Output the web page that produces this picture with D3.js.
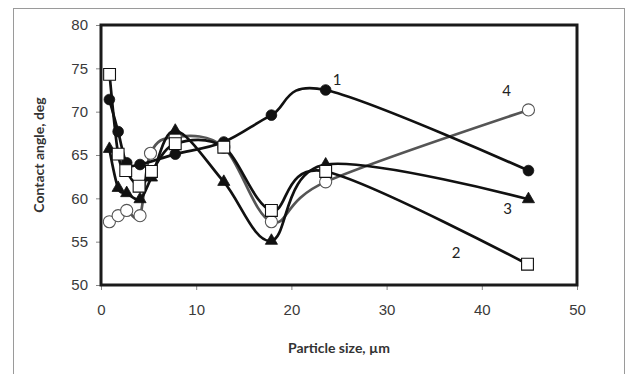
<!DOCTYPE html>
<html>
<head>
<meta charset="utf-8">
<script src="https://cdn.jsdelivr.net/npm/d3@7"></script>
<style>
  html, body { margin: 0; padding: 0; background: #fff; }
  svg { display: block; font-family: Lato, "Open Sans", "Liberation Sans", sans-serif; }
</style>
</head>
<body>
<div id="chart"></div>
<script>
// data
const xTicks = [0, 10, 20, 30, 40, 50];
const yTicks = [50, 55, 60, 65, 70, 75, 80];

const s1x = [0.88, 1.8, 2.7, 4.1, 7.8, 12.9, 17.9, 23.6, 44.9];
const s1y = [71.4, 67.7, 64.1, 63.9, 65.1, 66.5, 69.6, 72.5, 63.2];

const s2x = [0.9, 1.8, 2.6, 4.0, 5.3, 7.8, 12.9, 17.9, 23.6, 44.8];
const s2y = [74.3, 65.1, 63.2, 61.4, 63.1, 66.3, 65.9, 58.6, 63.1, 52.4];

const s3x = [0.88, 1.8, 2.7, 4.1, 5.3, 7.8, 12.9, 17.9, 23.6, 44.9];
const s3y = [65.7, 61.2, 60.6, 59.9, 62.4, 67.8, 61.9, 55.1, 63.9, 59.9];

const s4x = [0.88, 1.8, 2.7, 4.1, 5.2, 7.8, 12.9, 17.9, 23.6, 44.9];
const s4y = [57.3, 58.0, 58.6, 58.0, 65.2, 67.1, 65.9, 57.3, 61.9, 70.2];

const curveLabels = ['1', '2', '3', '4'];
const labelX = [24.8, 37.3, 42.7, 42.6];
const labelY = [73.8, 53.8, 58.9, 72.5];

const W = 633, H = 374;
const M = { l: 101, r: W - 577, t: 25, b: H - 285 };

const svg = d3.select('#chart').append('svg')
  .attr('width', W)
  .attr('height', H);

// outer chart border
svg.append('rect')
  .attr('x', 13.5).attr('y', 8.5)
  .attr('width', 611).attr('height', 400)
  .attr('fill', 'none')
  .attr('stroke', '#9a9a9a')
  .attr('stroke-width', 1);

const x = d3.scaleLinear().domain([0, 50]).range([M.l, W - M.r]);
const y = d3.scaleLinear().domain([50, 80]).range([H - M.b, M.t]);

const tickCol = '#888';
const labCol = '#3a3a3a';

const xAxis = svg.append('g')
  .attr('transform', `translate(0,${H - M.b})`)
  .call(d3.axisBottom(x).tickValues(xTicks).tickSize(5).tickPadding(14).tickSizeOuter(0));
xAxis.select('.domain').remove();
xAxis.selectAll('line').attr('stroke', tickCol);
xAxis.selectAll('text').attr('fill', labCol).style('font-size', '15px');

const yAxis = svg.append('g')
  .attr('transform', `translate(${M.l},0)`)
  .call(d3.axisLeft(y).tickValues(yTicks).tickSize(5).tickPadding(8).tickSizeOuter(0));
yAxis.select('.domain').remove();
yAxis.selectAll('line').attr('stroke', tickCol);
yAxis.selectAll('text').attr('fill', labCol).style('font-size', '15px');

// plot frame
svg.append('rect')
  .attr('x', x(0)).attr('y', y(80))
  .attr('width', x(50) - x(0)).attr('height', y(50) - y(80))
  .attr('fill', 'none')
  .attr('stroke', '#1a1a1a')
  .attr('stroke-width', 3);

const line = d3.line()
  .x(d => x(d[0]))
  .y(d => y(d[1]))
  .curve(d3.curveCardinal.tension(0));

const zip = (a, b) => a.map((v, i) => [v, b[i]]);

const series = [
  { pts: zip(s4x, s4y), color: '#555', mark: 'ocircle' },
  { pts: zip(s1x, s1y), color: '#111', mark: 'circle' },
  { pts: zip(s3x, s3y), color: '#111', mark: 'triangle' },
  { pts: zip(s2x, s2y), color: '#111', mark: 'square' }
];

series.forEach(s => {
  svg.append('path')
    .datum(s.pts)
    .attr('fill', 'none')
    .attr('stroke', s.color)
    .attr('stroke-width', 2.7)
    .attr('d', line);
});

const sym = {
  circle: d3.symbol().type(d3.symbolCircle).size(90),
  ocircle: d3.symbol().type(d3.symbolCircle).size(115),
  triangle: d3.symbol().type(d3.symbolTriangle).size(64),
  square: d3.symbol().type(d3.symbolSquare).size(140)
};

series.forEach(s => {
  const g = svg.append('g');
  g.selectAll('path')
    .data(s.pts)
    .enter().append('path')
    .attr('transform', d => `translate(${x(d[0])},${y(d[1])})`)
    .attr('d', sym[s.mark])
    .attr('fill', s.mark === 'circle' || s.mark === 'triangle' ? '#111' : '#fff')
    .attr('stroke', s.mark === 'ocircle' ? '#555' : '#111')
    .attr('stroke-width', s.mark === 'circle' || s.mark === 'triangle' ? 0.8 : 1.1);
});

// curve numbers
svg.selectAll('text.cl')
  .data(curveLabels)
  .enter().append('text')
  .attr('class', 'cl')
  .attr('x', (d, i) => x(labelX[i]))
  .attr('y', (d, i) => y(labelY[i]))
  .attr('text-anchor', 'middle')
  .attr('dominant-baseline', 'central')
  .attr('fill', '#222')
  .style('font-size', '15px')
  .text(d => d);

// axis titles
svg.append('text')
  .attr('x', (x(0) + x(50)) / 2)
  .attr('y', 347)
  .attr('text-anchor', 'middle')
  .attr('dominant-baseline', 'central')
  .attr('fill', '#333')
  .style('font-size', '14px')
  .style('font-weight', 'bold')
  .text('Particle size,  \u00b5m');

svg.append('text')
  .attr('transform', `translate(38,${(y(50) + y(80)) / 2}) rotate(-90)`)
  .attr('text-anchor', 'middle')
  .attr('dominant-baseline', 'central')
  .attr('fill', '#333')
  .style('font-size', '14px')
  .style('font-weight', 'bold')
  .text('Contact angle, deg');
</script>
</body>
</html>
